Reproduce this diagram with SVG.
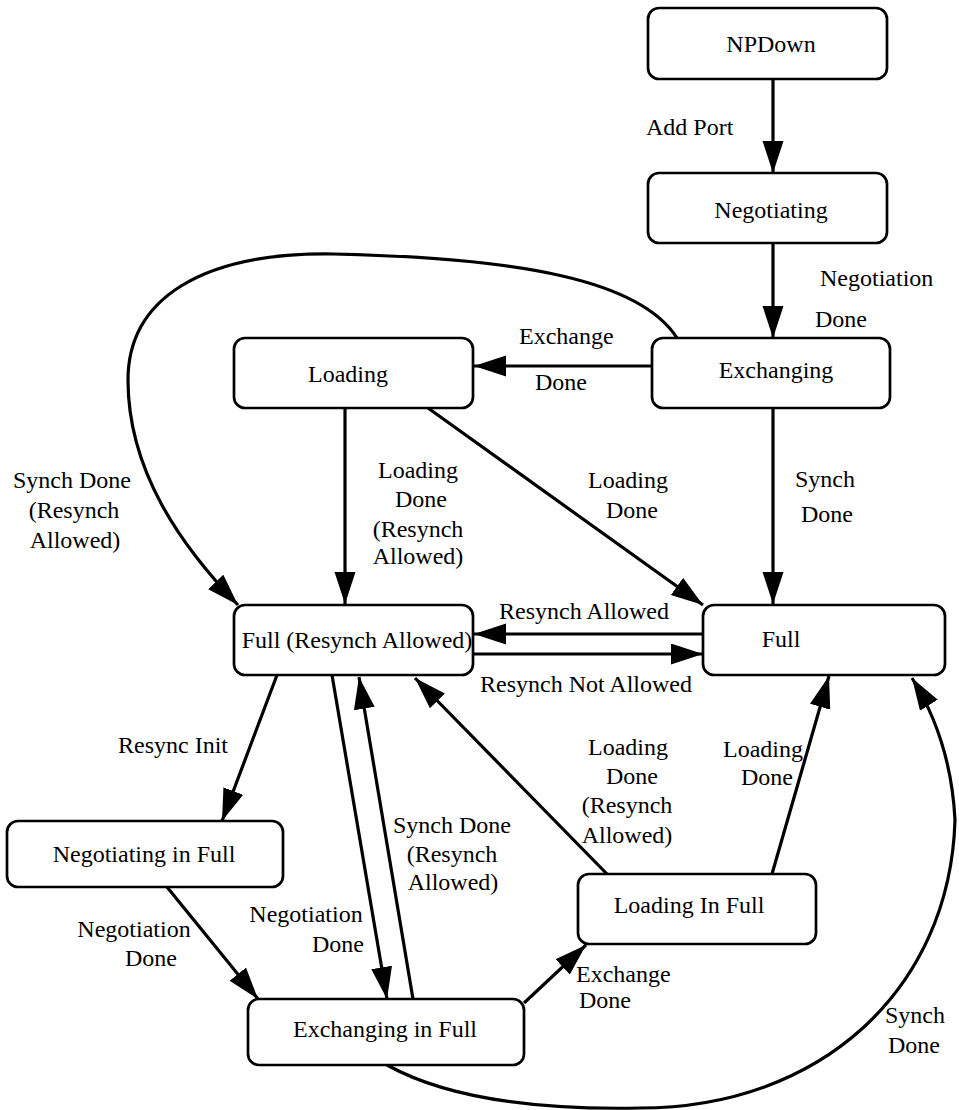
<svg xmlns="http://www.w3.org/2000/svg" width="959" height="1110" viewBox="0 0 959 1110">
<style>
.box{fill:#fff;stroke:#000;stroke-width:2.7}
.t{font-family:"Liberation Serif","Times New Roman",serif;font-size:24px;fill:#000}
.m{text-anchor:middle}
.c{fill:none;stroke:#000;stroke-width:3.2}
</style>
<defs>
<marker id="ah" markerUnits="userSpaceOnUse" markerWidth="34" markerHeight="22" refX="32" refY="10.5" orient="auto">
<path d="M0,0 L32,10.5 L0,21 z" fill="#000"/>
</marker>
</defs>
<rect width="959" height="1110" fill="#fff"/>
<g id="connectors">
<path class="c" marker-end="url(#ah)" d="M773,79 L773,173"/>
<path class="c" marker-end="url(#ah)" d="M773,243 L773,338"/>
<path class="c" marker-end="url(#ah)" d="M652,366 L474,366"/>
<path class="c" marker-end="url(#ah)" d="M773,408 L773,604"/>
<path class="c" marker-end="url(#ah)" d="M345,408 L345,604"/>
<path class="c" marker-end="url(#ah)" d="M428,408 L703,605"/>
<path class="c" marker-end="url(#ah)" d="M703,634 L474,634"/>
<path class="c" marker-end="url(#ah)" d="M473,654 L703,654"/>
<path class="c" marker-end="url(#ah)" d="M677,338 C640,280 520,258 333,254 C200,252 128,300 128,380 C128,470 180,545 238,605"/>
<path class="c" marker-end="url(#ah)" d="M277,675 L222,821"/>
<path class="c" marker-end="url(#ah)" d="M167,887 L258,999"/>
<path class="c" marker-end="url(#ah)" d="M332,675 L387,999"/>
<path class="c" marker-end="url(#ah)" d="M413,999 L359,677"/>
<path class="c" marker-end="url(#ah)" d="M524,1003 L586,945"/>
<path class="c" marker-end="url(#ah)" d="M607,874 L415,678"/>
<path class="c" marker-end="url(#ah)" d="M772,874 L829,676"/>
<path class="c" marker-end="url(#ah)" d="M387,1065 C450,1100 540,1110 640,1108 C820,1108 950,990 955,820 C952,760 935,715 912,678"/>
</g>
<g id="labels">
<text class="t" x="646" y="135">Add Port</text>
<text class="t" x="820" y="286">Negotiation</text>
<text class="t" x="815" y="327">Done</text>
<text class="t" x="519" y="344">Exchange</text>
<text class="t" x="535" y="390">Done</text>
<text class="t m" x="72" y="488">Synch Done</text>
<text class="t m" x="74" y="518">(Resynch</text>
<text class="t m" x="75" y="548">Allowed)</text>
<text class="t m" x="418" y="478">Loading</text>
<text class="t m" x="421" y="507">Done</text>
<text class="t m" x="418" y="537">(Resynch</text>
<text class="t m" x="418" y="564">Allowed)</text>
<text class="t m" x="628" y="488">Loading</text>
<text class="t m" x="632" y="518">Done</text>
<text class="t m" x="825" y="487">Synch</text>
<text class="t m" x="827" y="522">Done</text>
<text class="t m" x="584" y="619">Resynch Allowed</text>
<text class="t m" x="586" y="692">Resynch Not Allowed</text>
<text class="t m" x="173" y="753">Resync Init</text>
<text class="t m" x="628" y="755">Loading</text>
<text class="t m" x="632" y="784">Done</text>
<text class="t m" x="627" y="813">(Resynch</text>
<text class="t m" x="627" y="843">Allowed)</text>
<text class="t m" x="763" y="757">Loading</text>
<text class="t m" x="767" y="785">Done</text>
<text class="t m" x="452" y="833">Synch Done</text>
<text class="t m" x="452" y="862">(Resynch</text>
<text class="t m" x="453" y="890">Allowed)</text>
<text class="t m" x="134" y="937">Negotiation</text>
<text class="t m" x="151" y="966">Done</text>
<text class="t m" x="306" y="922">Negotiation</text>
<text class="t m" x="338" y="952">Done</text>
<text class="t" x="576" y="982">Exchange</text>
<text class="t" x="579" y="1008">Done</text>
<text class="t m" x="915" y="1023">Synch</text>
<text class="t m" x="914" y="1053">Done</text>
</g>
<g id="NPDown"><rect class="box" x="648" y="8" width="239" height="71" rx="11"/><text class="t m" x="771" y="52">NPDown</text></g>
<g id="Negotiating"><rect class="box" x="648" y="173" width="239" height="70" rx="11"/><text class="t m" x="771" y="218">Negotiating</text></g>
<g id="Exchanging"><rect class="box" x="652" y="338" width="238" height="70" rx="11"/><text class="t m" x="776" y="378">Exchanging</text></g>
<g id="Loading"><rect class="box" x="234" y="338" width="239" height="70" rx="11"/><text class="t m" x="348" y="382">Loading</text></g>
<g id="FullResynchAllowed"><rect class="box" x="234" y="605" width="239" height="70" rx="11"/><text class="t m" x="357" y="648">Full (Resynch Allowed)</text></g>
<g id="Full"><rect class="box" x="703" y="605" width="242" height="70" rx="11"/><text class="t m" x="781" y="647">Full</text></g>
<g id="NegotiatingInFull"><rect class="box" x="7" y="821" width="276" height="66" rx="11"/><text class="t m" x="144" y="862">Negotiating in Full</text></g>
<g id="ExchangingInFull"><rect class="box" x="248" y="999" width="276" height="66" rx="11"/><text class="t m" x="385" y="1037">Exchanging in Full</text></g>
<g id="LoadingInFull"><rect class="box" x="578" y="874" width="238" height="70" rx="11"/><text class="t m" x="689" y="913">Loading In Full</text></g>
</svg>
